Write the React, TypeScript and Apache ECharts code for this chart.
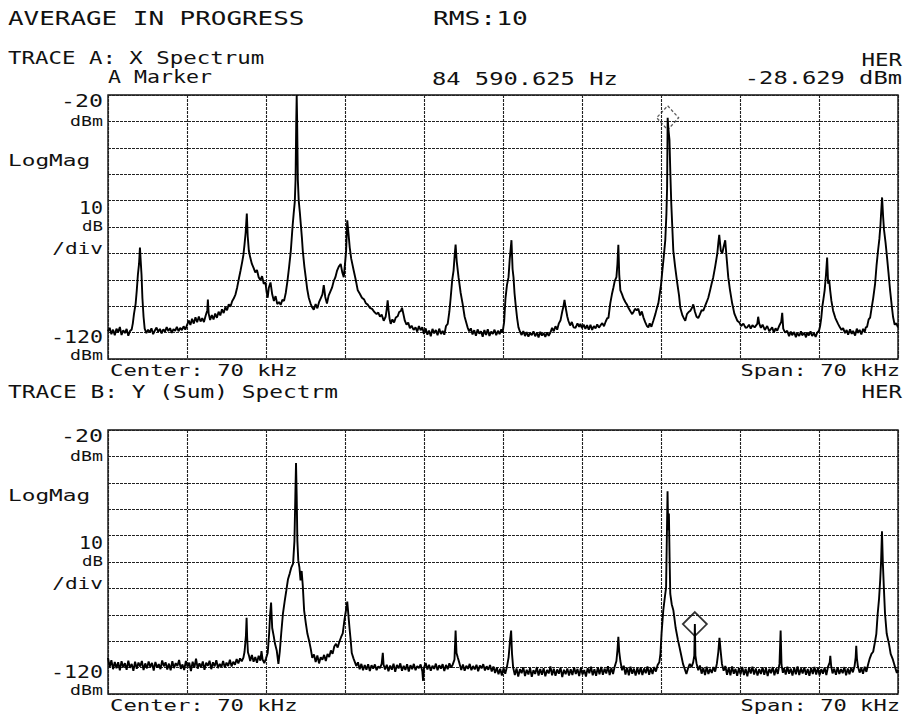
import React, { useEffect, useRef } from "react";
import * as echarts from "echarts";

// Frequency axis (kHz): Center 70 kHz, Span 70 kHz
const FREQ_MIN = 35;
const FREQ_MAX = 105;
const FREQ_STEP = 7;
// Level axis (dBm): -20 dBm top, 10 dB/div
const LEVEL_MIN = -120;
const LEVEL_MAX = -20;
const LEVEL_STEP = 10;

// Trace A: X Spectrum  [kHz, dBm]
const traceA: number[][] = [
  [35.0,-109.5],[35.15,-108.2],[35.3,-110.6],[35.45,-108.9],[35.6,-111.0],[35.75,-108.5],[35.9,-109.8],[36.05,-107.9],[36.2,-110.9],[36.35,-109.1],[36.5,-110.2],[36.65,-108.6],[36.8,-111.2],[36.95,-109.4],[37.1,-108.8],[37.2,-106.5],
  [37.3,-103],[37.45,-99],[37.55,-94],[37.65,-88],[37.75,-84],[37.83,-77.8],[37.9,-83],[37.97,-88],[38.05,-97],[38.15,-104],[38.25,-108.5],
  [38.4,-110.2],[38.55,-108.9],[38.7,-109.9],[38.85,-108.4],[39.0,-110.6],[39.15,-109.2],[39.3,-108.1],[39.45,-109.7],[39.6,-108.6],[39.75,-110.3],[39.9,-108.8],[40.05,-109.6],[40.2,-107.9],[40.35,-109.4],[40.5,-108.3],[40.65,-110.1],[40.8,-108.7],[40.95,-109.3],[41.1,-107.8],[41.25,-109.5],[41.4,-108.2],[41.55,-109.1],[41.7,-107.6],[41.85,-108.9],[42.0,-107.2],
  [42.15,-105.4],[42.3,-107.1],[42.45,-104.8],[42.6,-106.6],[42.75,-104.2],[42.9,-106.1],[43.05,-103.9],[43.2,-105.8],[43.35,-104.5],[43.5,-106.0],[43.65,-103.6],[43.8,-101.5],[43.85,-97.5],[43.92,-102.8],[44.05,-105.2],[44.2,-103.4],[44.35,-105.0],[44.5,-102.8],[44.65,-104.4],[44.8,-102.1],[44.95,-103.5],[45.1,-101.2],[45.25,-102.6],[45.4,-100.4],[45.55,-101.5],[45.7,-99.3],[45.85,-100.2],[46.0,-98.1],[46.15,-97.0],[46.3,-95.5],[46.45,-92.8],[46.6,-89.5],[46.75,-86.4],[46.9,-83.0],[47.0,-80.5],[47.1,-76.5],[47.2,-72.0],[47.3,-64.9],[47.38,-73.5],[47.48,-79.0],[47.6,-81.5],[47.75,-84.0],[47.9,-85.5],[48.05,-87.2],[48.2,-86.3],[48.35,-89.0],[48.5,-90.1],[48.65,-88.6],[48.8,-91.5],[48.95,-91.0],[49.05,-94.5],[49.15,-96.8],[49.25,-93.0],[49.4,-91.0],[49.55,-95.5],[49.7,-98.0],[49.85,-96.2],[50.0,-99.2],[50.15,-98.4],[50.3,-99.5],[50.45,-97.6],[50.6,-98.0],[50.75,-95.0],[50.9,-90.5],[51.05,-85.0],[51.2,-79.0],[51.35,-70.0],[51.45,-65.0],[51.55,-60.5],[51.62,-52.0],[51.68,-30.0],[51.72,-20.0],[51.76,-30.0],[51.82,-52.0],[51.9,-60.0],[52.0,-64.5],[52.08,-68.7],[52.18,-74.0],[52.26,-79.0],[52.4,-85.0],[52.52,-89.0],[52.65,-93.5],[52.79,-96.8],[52.95,-99.0],[53.1,-100.5],[53.23,-101.3],[53.4,-99.2],[53.55,-100.8],[53.7,-98.5],[53.85,-97.0],[54.0,-95.5],[54.12,-92.0],[54.25,-96.5],[54.4,-99.0],[54.55,-96.0],[54.7,-94.5],[54.85,-93.0],[55.0,-90.5],[55.15,-89.0],[55.3,-86.5],[55.45,-85.0],[55.62,-84.0],[55.75,-87.0],[55.89,-89.0],[56.0,-84.0],[56.1,-79.0],[56.2,-67.5],[56.3,-72.0],[56.42,-77.8],[56.55,-82.0],[56.77,-86.5],[56.95,-90.0],[57.13,-94.0],[57.3,-95.2],[57.5,-96.8],[57.7,-97.5],[57.85,-98.9],[58.01,-99.4],[58.2,-100.6],[58.4,-101.0],[58.6,-102.2],[58.8,-103.0],[58.95,-102.4],[59.1,-104.0],[59.25,-103.2],[59.43,-105.5],[59.6,-104.0],[59.7,-101.0],[59.78,-97.8],[59.86,-101.5],[59.95,-104.8],[60.05,-106.7],[60.2,-105.0],[60.35,-106.2],[60.5,-104.3],[60.67,-103.8],[60.8,-102.2],[60.95,-101.8],[61.05,-100.6],[61.15,-102.5],[61.3,-105.5],[61.45,-107.0],[61.6,-106.2],[61.75,-108.3],[61.9,-107.4],[62.08,-109.0],[62.25,-108.0],[62.4,-109.6],[62.55,-107.5],[62.7,-109.1],[62.85,-108.0],[63.0,-110.5],[63.15,-108.4],[63.3,-110.8],[63.45,-109.2],[63.6,-111.4],[63.75,-108.6],[63.9,-110.3],[64.05,-109.0],[64.2,-111.0],[64.35,-108.5],[64.5,-110.5],[64.65,-109.4],[64.8,-110.8],[64.95,-107.5],[65.1,-106.7],[65.25,-102.0],[65.36,-97.0],[65.5,-90.0],[65.62,-86.5],[65.72,-80.5],[65.8,-76.7],[65.9,-83.0],[66.06,-89.0],[66.25,-95.0],[66.42,-99.0],[66.6,-104.0],[66.86,-108.0],[67.0,-109.5],[67.15,-108.4],[67.3,-110.7],[67.45,-109.1],[67.6,-111.2],[67.75,-108.8],[67.9,-110.4],[68.05,-109.5],[68.2,-111.6],[68.35,-109.0],[68.5,-110.9],[68.65,-108.7],[68.8,-111.3],[68.95,-109.6],[69.1,-110.5],[69.25,-108.9],[69.4,-111.0],[69.55,-109.3],[69.7,-110.6],[69.85,-108.8],[69.96,-110.0],[70.1,-106.0],[70.22,-97.0],[70.35,-92.0],[70.49,-89.0],[70.6,-82.0],[70.75,-75.0],[70.85,-86.0],[70.93,-89.0],[71.02,-95.0],[71.11,-99.0],[71.25,-104.5],[71.37,-108.0],[71.5,-109.6],[71.65,-110.9],[71.8,-109.4],[71.95,-111.3],[72.1,-109.8],[72.25,-111.5],[72.4,-110.1],[72.55,-111.0],[72.7,-109.5],[72.85,-111.4],[73.0,-110.0],[73.15,-111.8],[73.3,-109.7],[73.45,-111.1],[73.6,-110.2],[73.75,-111.6],[73.9,-109.9],[74.05,-111.2],[74.2,-110.0],[74.35,-108.2],[74.5,-109.5],[74.65,-107.6],[74.8,-108.9],[74.95,-106.5],[75.1,-105.3],[75.25,-102.0],[75.36,-100.0],[75.45,-97.6],[75.55,-100.5],[75.7,-104.0],[75.8,-105.6],[75.95,-107.3],[76.1,-106.0],[76.25,-108.0],[76.42,-108.2],[76.6,-106.5],[76.75,-107.8],[76.86,-106.7],[77.0,-108.3],[77.15,-107.0],[77.3,-108.6],[77.45,-107.2],[77.6,-108.9],[77.75,-107.0],[77.9,-109.0],[78.05,-107.5],[78.2,-108.4],[78.35,-106.9],[78.5,-108.1],[78.65,-107.2],[78.8,-106.4],[78.95,-107.6],[79.1,-105.8],[79.25,-104.4],[79.34,-104.5],[79.5,-99.0],[79.65,-95.5],[79.78,-93.0],[79.9,-90.5],[80.05,-89.0],[80.14,-84.0],[80.22,-76.7],[80.3,-88.0],[80.4,-94.0],[80.55,-95.5],[80.67,-97.0],[80.85,-98.5],[81.0,-99.5],[81.11,-100.6],[81.3,-102.0],[81.45,-103.0],[81.55,-102.3],[81.7,-101.0],[81.85,-101.5],[81.99,-101.0],[82.15,-103.5],[82.3,-102.0],[82.44,-104.2],[82.6,-106.0],[82.75,-107.5],[82.88,-108.0],[83.0,-106.5],[83.15,-107.8],[83.32,-105.5],[83.5,-103.0],[83.65,-100.5],[83.76,-99.0],[83.9,-95.0],[84.0,-92.0],[84.12,-86.5],[84.25,-81.0],[84.38,-75.0],[84.48,-65.0],[84.54,-55.0],[84.59,-28.6],[84.66,-33.0],[84.75,-37.0],[84.83,-50.0],[84.91,-61.0],[85.0,-70.0],[85.09,-79.0],[85.25,-85.0],[85.45,-91.5],[85.6,-96.0],[85.71,-100.6],[85.9,-103.5],[86.05,-104.8],[86.15,-105.5],[86.3,-103.0],[86.45,-102.2],[86.6,-101.7],[86.75,-100.6],[86.86,-99.3],[87.0,-102.0],[87.15,-104.0],[87.3,-104.5],[87.45,-103.1],[87.6,-101.5],[87.75,-101.7],[87.9,-100.0],[88.05,-98.4],[88.19,-96.8],[88.35,-94.0],[88.5,-91.2],[88.63,-89.0],[88.8,-85.0],[88.99,-80.0],[89.08,-76.0],[89.16,-73.0],[89.3,-79.0],[89.43,-80.0],[89.55,-77.5],[89.69,-75.0],[89.8,-81.0],[89.96,-89.0],[90.1,-93.5],[90.31,-99.0],[90.5,-102.8],[90.76,-105.5],[90.95,-106.2],[91.1,-107.5],[91.3,-106.6],[91.5,-108.2],[91.64,-108.0],[91.8,-107.0],[91.95,-108.5],[92.1,-107.2],[92.3,-108.0],[92.53,-106.7],[92.61,-104.0],[92.7,-106.5],[92.85,-108.2],[93.0,-107.0],[93.2,-109.0],[93.41,-107.5],[93.6,-109.5],[93.85,-108.0],[94.0,-110.0],[94.15,-108.4],[94.3,-109.3],[94.5,-107.2],[94.65,-106.0],[94.74,-102.5],[94.83,-108.5],[95.0,-110.0],[95.18,-109.3],[95.35,-111.4],[95.5,-109.6],[95.62,-111.0],[95.8,-109.8],[95.95,-111.7],[96.07,-110.2],[96.25,-111.3],[96.4,-109.5],[96.51,-111.0],[96.7,-110.1],[96.85,-111.8],[96.95,-110.0],[97.1,-111.1],[97.25,-109.5],[97.39,-111.3],[97.55,-110.2],[97.7,-111.6],[97.84,-110.0],[98.0,-109.3],[98.1,-107.5],[98.2,-104.5],[98.3,-100.0],[98.37,-98.0],[98.5,-94.0],[98.62,-88.0],[98.72,-81.6],[98.81,-91.5],[98.9,-90.0],[98.99,-94.0],[99.1,-98.0],[99.25,-101.7],[99.45,-104.5],[99.69,-106.7],[99.85,-108.0],[100.0,-109.0],[100.14,-108.3],[100.3,-110.2],[100.45,-109.0],[100.58,-110.8],[100.75,-108.8],[100.9,-110.5],[101.02,-109.4],[101.2,-111.1],[101.35,-108.5],[101.46,-110.1],[101.6,-109.0],[101.75,-110.7],[101.91,-108.6],[102.05,-109.8],[102.15,-108.0],[102.26,-107.8],[102.4,-105.0],[102.53,-104.3],[102.65,-101.0],[102.8,-97.0],[102.97,-91.5],[103.1,-84.5],[103.23,-79.0],[103.35,-74.5],[103.45,-69.0],[103.5,-65.0],[103.59,-58.8],[103.68,-66.0],[103.76,-71.0],[103.9,-76.0],[104.03,-81.6],[104.15,-87.0],[104.3,-94.0],[104.45,-100.0],[104.56,-104.0],[104.7,-107.0],[104.85,-106.5],[105.0,-108.0]
];

// Trace B: Y (Sum) Spectrm  [kHz, dBm]
const traceB: number[][] = [
  [35.0,-106.3],[35.15,-109.8],[35.3,-107.2],[35.45,-110.6],[35.6,-107.9],[35.75,-110.2],[35.9,-108.0],[36.05,-111.0],[36.2,-107.6],[36.35,-109.9],[36.5,-108.3],[36.65,-110.8],[36.8,-107.4],[36.95,-110.1],[37.1,-108.6],[37.25,-111.2],[37.4,-107.8],[37.55,-110.4],[37.7,-108.1],[37.85,-109.6],[38.0,-107.5],[38.15,-110.9],[38.3,-108.4],[38.45,-110.3],[38.6,-107.7],[38.75,-109.8],[38.9,-108.2],[39.05,-111.1],[39.2,-107.9],[39.35,-110.0],[39.5,-108.7],[39.65,-110.6],[39.8,-107.3],[39.95,-109.5],[40.1,-108.0],[40.25,-110.7],[40.4,-108.5],[40.55,-111.0],[40.7,-107.6],[40.85,-110.2],[41.0,-108.3],[41.15,-109.4],[41.3,-107.1],[41.45,-110.5],[41.6,-108.8],[41.75,-110.9],[41.9,-107.5],[42.05,-109.7],[42.2,-108.1],[42.35,-111.3],[42.5,-107.8],[42.65,-110.1],[42.8,-106.6],[42.95,-110.4],[43.1,-108.4],[43.25,-109.9],[43.4,-107.7],[43.55,-110.8],[43.7,-108.2],[43.85,-109.3],[44.0,-107.4],[44.15,-110.6],[44.3,-108.0],[44.45,-109.5],[44.6,-107.2],[44.75,-110.2],[44.9,-108.6],[45.05,-109.8],[45.2,-107.5],[45.35,-110.0],[45.5,-108.1],[45.65,-109.4],[45.8,-107.0],[45.95,-109.6],[46.1,-107.8],[46.25,-108.9],[46.4,-106.8],[46.55,-108.4],[46.7,-106.5],[46.85,-107.6],[47.0,-106.2],
  [47.1,-104.0],[47.22,-98.0],[47.28,-91.1],[47.33,-98.5],[47.4,-104.2],[47.5,-105.6],[47.6,-107.5],[47.75,-105.2],[47.9,-107.8],[48.05,-106.0],[48.2,-108.2],[48.35,-105.5],[48.5,-107.4],[48.6,-103.8],[48.7,-107.0],[48.85,-108.3],[49.0,-106.5],[49.15,-104.5],[49.28,-97.0],[49.35,-91.0],[49.45,-85.4],[49.55,-95.0],[49.68,-98.0],[49.8,-101.0],[49.95,-103.5],[50.1,-108.6],[50.22,-104.0],[50.35,-97.0],[50.5,-89.6],[50.65,-85.0],[50.8,-80.8],[50.95,-76.5],[51.1,-74.4],[51.25,-72.0],[51.4,-70.6],[51.52,-62.0],[51.6,-45.0],[51.66,-32.5],[51.72,-45.0],[51.78,-62.0],[51.86,-69.4],[51.96,-72.0],[52.06,-77.0],[52.16,-73.4],[52.26,-79.0],[52.38,-88.4],[52.52,-93.0],[52.67,-97.2],[52.82,-99.8],[52.97,-103.0],[53.1,-106.3],[53.25,-105.0],[53.4,-107.9],[53.55,-105.4],[53.7,-108.4],[53.85,-106.1],[54.0,-107.0],[54.15,-105.2],[54.3,-107.5],[54.45,-104.8],[54.6,-106.0],[54.75,-103.5],[54.9,-104.8],[55.05,-102.0],[55.2,-101.0],[55.35,-102.4],[55.5,-100.2],[55.65,-98.5],[55.8,-97.0],[55.95,-92.0],[56.1,-88.0],[56.2,-85.0],[56.3,-90.0],[56.4,-95.0],[56.5,-99.5],[56.6,-104.5],[56.75,-106.5],[56.9,-108.2],[57.0,-109.4],[57.15,-108.0],[57.3,-110.6],[57.45,-108.6],[57.6,-111.0],[57.75,-109.0],[57.9,-110.8],[58.05,-108.7],[58.2,-111.3],[58.35,-109.1],[58.5,-110.4],[58.65,-108.8],[58.8,-111.0],[58.95,-109.5],[59.1,-110.2],[59.25,-108.6],[59.35,-104.4],[59.42,-108.9],[59.55,-110.7],[59.7,-108.9],[59.85,-111.4],[60.0,-109.2],[60.15,-110.8],[60.3,-108.5],[60.45,-111.6],[60.6,-109.0],[60.75,-110.3],[60.9,-108.4],[61.05,-111.2],[61.2,-109.3],[61.35,-110.9],[61.5,-108.7],[61.65,-111.5],[61.8,-109.1],[61.95,-110.6],[62.1,-108.6],[62.25,-111.0],[62.4,-109.4],[62.55,-110.2],[62.7,-108.8],[62.85,-111.4],[62.92,-115.0],[63.0,-110.0],[63.15,-108.3],[63.3,-110.7],[63.45,-108.9],[63.6,-111.2],[63.75,-109.3],[63.9,-110.5],[64.05,-108.5],[64.2,-111.0],[64.35,-109.1],[64.5,-110.4],[64.65,-108.7],[64.8,-111.3],[64.95,-109.0],[65.1,-110.6],[65.25,-108.4],[65.4,-110.0],[65.55,-108.8],[65.7,-107.0],[65.8,-96.0],[65.88,-104.5],[66.0,-106.3],[66.15,-108.5],[66.3,-110.9],[66.45,-108.8],[66.6,-111.2],[66.75,-109.3],[66.9,-110.5],[67.05,-108.6],[67.2,-111.0],[67.35,-109.4],[67.5,-110.7],[67.65,-108.9],[67.8,-111.4],[67.95,-109.2],[68.1,-110.3],[68.25,-108.7],[68.4,-111.1],[68.55,-109.5],[68.7,-110.8],[68.85,-109.0],[69.0,-111.5],[69.15,-109.6],[69.3,-112.0],[69.45,-110.0],[69.6,-112.5],[69.75,-110.4],[69.9,-113.0],[70.05,-110.2],[70.2,-112.3],[70.35,-109.7],[70.5,-106.0],[70.62,-99.8],[70.72,-96.0],[70.8,-104.8],[70.9,-110.0],[71.05,-112.8],[71.2,-110.3],[71.35,-113.4],[71.5,-110.6],[71.65,-112.1],[71.8,-109.9],[71.95,-113.2],[72.1,-110.8],[72.25,-112.6],[72.4,-110.1],[72.55,-113.5],[72.7,-111.0],[72.85,-112.4],[73.0,-109.8],[73.15,-113.0],[73.3,-110.5],[73.45,-112.7],[73.6,-110.2],[73.75,-113.3],[73.9,-110.9],[74.05,-112.2],[74.2,-109.6],[74.35,-112.9],[74.5,-110.4],[74.65,-113.1],[74.8,-110.7],[74.95,-112.3],[75.1,-110.0],[75.25,-113.6],[75.4,-110.8],[75.55,-112.5],[75.7,-110.3],[75.85,-113.0],[76.0,-110.6],[76.15,-112.8],[76.3,-109.9],[76.45,-112.4],[76.6,-110.5],[76.75,-113.2],[76.9,-110.1],[77.05,-112.6],[77.2,-110.9],[77.35,-113.4],[77.5,-110.2],[77.65,-112.1],[77.8,-109.7],[77.95,-112.9],[78.1,-110.6],[78.25,-113.1],[78.4,-110.0],[78.55,-112.5],[78.7,-109.8],[78.85,-112.7],[79.0,-110.4],[79.15,-112.2],[79.3,-109.5],[79.45,-112.8],[79.6,-110.1],[79.75,-112.4],[79.9,-109.6],[80.05,-107.5],[80.15,-103.0],[80.22,-98.3],[80.3,-104.0],[80.4,-107.5],[80.55,-111.0],[80.7,-109.3],[80.85,-112.6],[81.0,-110.0],[81.15,-112.9],[81.3,-109.7],[81.45,-112.3],[81.6,-110.4],[81.75,-113.0],[81.9,-110.1],[82.05,-112.5],[82.2,-109.9],[82.35,-112.8],[82.5,-110.3],[82.65,-112.1],[82.8,-109.6],[82.95,-112.7],[83.1,-110.2],[83.25,-112.4],[83.4,-109.8],[83.55,-111.5],[83.7,-109.0],[83.85,-108.0],[83.95,-104.8],[84.05,-97.0],[84.2,-88.4],[84.35,-83.0],[84.45,-79.7],[84.52,-60.0],[84.58,-43.2],[84.64,-58.0],[84.7,-51.6],[84.76,-68.0],[84.82,-82.0],[84.95,-86.0],[85.1,-88.4],[85.3,-95.0],[85.5,-99.5],[85.65,-102.5],[85.8,-105.5],[85.95,-108.6],[86.1,-110.5],[86.25,-112.4],[86.4,-110.2],[86.55,-108.6],[86.7,-109.8],[86.85,-108.0],[86.95,-105.5],[87.0,-93.5],[87.05,-105.5],[87.15,-108.4],[87.3,-111.0],[87.45,-109.2],[87.6,-112.3],[87.75,-110.1],[87.9,-112.8],[88.05,-109.7],[88.2,-112.4],[88.35,-110.5],[88.5,-112.0],[88.65,-109.8],[88.8,-111.5],[88.95,-108.5],[89.08,-104.0],[89.18,-98.7],[89.28,-103.5],[89.4,-108.6],[89.55,-111.2],[89.7,-109.4],[89.85,-112.7],[90.0,-110.0],[90.15,-112.9],[90.3,-109.6],[90.45,-112.3],[90.6,-110.5],[90.75,-113.1],[90.9,-110.2],[91.05,-112.5],[91.2,-109.8],[91.35,-112.8],[91.5,-110.4],[91.65,-113.3],[91.8,-110.0],[91.95,-112.2],[92.1,-109.7],[92.25,-112.6],[92.4,-110.3],[92.55,-113.0],[92.7,-110.6],[92.85,-112.4],[93.0,-109.9],[93.15,-112.7],[93.3,-110.2],[93.45,-113.2],[93.6,-110.5],[93.75,-112.1],[93.9,-109.8],[94.05,-112.9],[94.2,-110.3],[94.35,-112.4],[94.5,-108.5],[94.6,-96.0],[94.68,-109.0],[94.8,-112.0],[94.9,-110.1],[95.05,-112.6],[95.2,-109.7],[95.35,-112.3],[95.5,-110.4],[95.65,-113.0],[95.8,-110.0],[95.95,-112.5],[96.1,-109.6],[96.25,-112.8],[96.4,-110.3],[96.55,-112.2],[96.7,-109.9],[96.85,-112.7],[97.0,-110.5],[97.15,-113.1],[97.3,-110.1],[97.45,-112.4],[97.6,-109.8],[97.75,-112.6],[97.9,-110.2],[98.05,-112.9],[98.2,-110.6],[98.35,-112.3],[98.5,-110.0],[98.65,-112.8],[98.8,-109.7],[98.95,-108.0],[99.0,-105.5],[99.08,-109.5],[99.2,-112.2],[99.35,-110.4],[99.5,-112.7],[99.65,-109.9],[99.8,-112.4],[99.95,-110.6],[100.1,-112.1],[100.25,-109.8],[100.4,-112.9],[100.55,-110.3],[100.7,-112.5],[100.85,-110.0],[101.0,-111.8],[101.15,-109.5],[101.25,-106.0],[101.3,-101.7],[101.36,-106.5],[101.45,-109.6],[101.6,-111.9],[101.75,-110.2],[101.9,-112.3],[102.05,-109.7],[102.2,-111.6],[102.35,-108.8],[102.5,-106.5],[102.65,-104.8],[102.8,-104.0],[102.95,-100.5],[103.08,-97.2],[103.2,-89.6],[103.32,-84.0],[103.42,-77.0],[103.5,-70.0],[103.58,-58.4],[103.66,-70.6],[103.75,-80.0],[103.85,-89.6],[104.0,-97.2],[104.2,-101.0],[104.35,-104.8],[104.55,-107.0],[104.75,-110.0],[104.9,-112.0],[105.0,-111.0]
];

// Marker positions [kHz, dBm]
const markerA: number[] = [84.590625, -28.629];
const markerB: number[] = [87.0, -93.5];

// Texts
const statusText = "AVERAGE IN PROGRESS";
const rmsText = "RMS:10";
const traceATitle = "TRACE A: X Spectrum";
const traceBTitle = "TRACE B: Y (Sum) Spectrm";
const markerLabel = "A Marker";
const markerFreqText = "84 590.625 Hz";
const markerLevelText = "-28.629 dBm";
const herText = "HER";
const refTop = ["-20", "dBm"];
const scaleLabels = ["10", "dB", "/div"];
const refBottom = ["-120", "dBm"];
const modeText = "LogMag";
const centerText = "Center: 70 kHz";
const spanText = "Span: 70 kHz";

const FONT = '"DejaVu Sans Mono", monospace';
const INK = "#111";

function txt(text: string, x: number, y: number, size: number, cw: number, align: string = "left") {
  return {
    type: "text",
    x,
    y,
    scaleX: cw / (0.602 * size),
    silent: true,
    style: {
      text,
      font: `${size}px ${FONT}`,
      fill: INK,
      textAlign: align,
      textVerticalAlign: "middle",
      align,
      verticalAlign: "middle",
    },
  };
}

const PLOT_LEFT = 108;
const PLOT_W = 790;
const PLOT_H = 264;
const TOPS = [95, 430];

function sideLabels(T: number) {
  return [
    txt(refTop[0], 103, T + 6, 17, 14, "right"),
    txt(refTop[1], 103, T + 26, 14, 11, "right"),
    txt(modeText, 8, T + 66, 16, 13.7),
    txt(scaleLabels[0], 103, T + 113, 17, 12, "right"),
    txt(scaleLabels[1], 103, T + 131, 14, 10.5, "right"),
    txt(scaleLabels[2], 103, T + 153, 16, 12.7, "right"),
    txt(refBottom[0], 103, T + 242, 17, 13, "right"),
    txt(refBottom[1], 103, T + 260, 14, 11, "right"),
    txt(centerText, 110, T + PLOT_H + 12, 16, 13.4),
    txt(spanText, 900, T + PLOT_H + 12, 16, 13.3, "right"),
  ];
}

export default function App() {
  const ref = useRef<HTMLDivElement>(null);
  useEffect(() => {
    if (!ref.current) return;
    const chart = echarts.init(ref.current, null, { renderer: "svg" });
    const gridLine = { show: true, lineStyle: { color: "#222", width: 1.1, type: [3, 1] } };
    const xAxes = TOPS.map((_, i) => ({
      type: "value",
      gridIndex: i,
      min: FREQ_MIN,
      max: FREQ_MAX,
      interval: FREQ_STEP,
      axisLabel: { show: false },
      axisTick: { show: false },
      axisLine: { show: false },
      splitLine: gridLine,
    }));
    const yAxes = TOPS.map((_, i) => ({
      type: "value",
      gridIndex: i,
      min: LEVEL_MIN,
      max: LEVEL_MAX,
      interval: LEVEL_STEP,
      axisLabel: { show: false },
      axisTick: { show: false },
      axisLine: { show: false },
      splitLine: gridLine,
    }));
    const option: any = {
      animation: false,
      backgroundColor: "#ffffff",
      grid: TOPS.map((t) => ({
        left: PLOT_LEFT,
        top: t,
        width: PLOT_W,
        height: PLOT_H,
        show: true,
        borderColor: "#111",
        borderWidth: 1.4,
        backgroundColor: "transparent",
      })),
      xAxis: xAxes,
      yAxis: yAxes,
      series: [
        {
          type: "line",
          xAxisIndex: 0,
          yAxisIndex: 0,
          data: traceA,
          showSymbol: false,
          symbol: "none",
          clip: true,
          lineStyle: { color: "#000", width: 1.9 },
        },
        {
          type: "line",
          xAxisIndex: 1,
          yAxisIndex: 1,
          data: traceB,
          showSymbol: false,
          symbol: "none",
          clip: true,
          lineStyle: { color: "#000", width: 1.9 },
        },
        {
          type: "scatter",
          xAxisIndex: 0,
          yAxisIndex: 0,
          data: [markerA],
          symbol: "diamond",
          symbolSize: [22, 24],
          itemStyle: { color: "rgba(255,255,255,0)", borderColor: "#333", borderWidth: 1.3, borderType: [3, 2] },
        },
        {
          type: "scatter",
          xAxisIndex: 1,
          yAxisIndex: 1,
          data: [markerB],
          symbol: "diamond",
          symbolSize: [24, 24],
          itemStyle: { color: "rgba(255,255,255,0)", borderColor: "#000", borderWidth: 1.8 },
        },
      ],
      graphic: [
        txt(statusText, 8, 18, 20, 15.6),
        txt(rmsText, 433, 18, 20, 15.8),
        txt(traceATitle, 8, 58, 17, 13.5),
        txt(herText, 902, 60, 17, 13.5, "right"),
        txt(markerLabel, 108, 77, 17, 13.0),
        txt(markerFreqText, 432, 79, 17, 14.3),
        txt(markerLevelText, 902, 78, 17, 14.3, "right"),
        txt(traceBTitle, 8, 392, 17, 13.75),
        txt(herText, 902, 392, 17, 13.5, "right"),
        ...sideLabels(TOPS[0]),
        ...sideLabels(TOPS[1]),
      ],
    };
    chart.setOption(option);
    return () => chart.dispose();
  }, []);
  return (
    <div
      ref={ref}
      style={{ position: "absolute", left: 0, top: 0, width: 912, height: 719, background: "#fff" }}
    />
  );
}
